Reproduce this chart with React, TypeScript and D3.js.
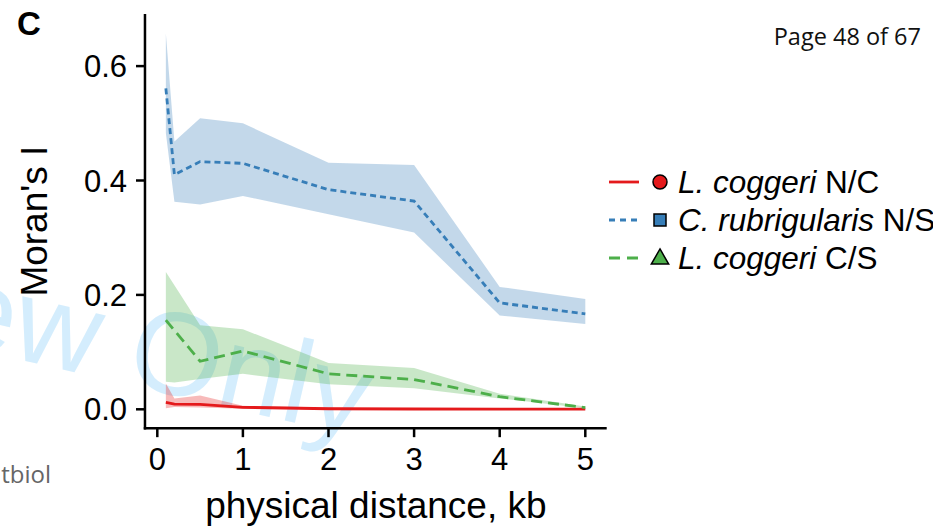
import React from 'react';
import * as d3 from 'd3';

// distances (kb) at which Moran's I was computed
const distances = [0.1, 0.2, 0.5, 1, 2, 3, 4, 5];

// L. coggeri N/C
const ncMean = [0.012, 0.009, 0.0087, 0.0035, 0.001, 0.0005, 0.0003, 0.0002];
const ncLow = [0.002, 0.004, 0.003, 0.001, 0.0, 0.0, 0.0, 0.0];
const ncHigh = [0.045, 0.019, 0.024, 0.006, 0.003, 0.002, 0.002, 0.002];

// C. rubrigularis N/S
const nsMean = [0.561, 0.41, 0.433, 0.43, 0.384, 0.364, 0.186, 0.167];
const nsLow = [0.483, 0.363, 0.358, 0.373, 0.341, 0.309, 0.164, 0.149];
const nsHigh = [0.657, 0.468, 0.509, 0.5, 0.431, 0.427, 0.214, 0.193];

// L. coggeri C/S
const csMean = [0.156, 0.138, 0.084, 0.102, 0.062, 0.052, 0.022, 0.003];
const csLow = [0.048, 0.047, 0.053, 0.062, 0.044, 0.037, 0.019, 0.002];
const csHigh = [0.24, 0.217, 0.147, 0.14, 0.081, 0.072, 0.027, 0.005];

const xTicks = [0, 1, 2, 3, 4, 5];
const yTicks = [0.0, 0.2, 0.4, 0.6];

const series = [
  { italic: 'L. coggeri', rest: ' N/C', mean: ncMean, low: ncLow, high: ncHigh, color: '#e41a1c', dash: null, shape: 'circle' },
  { italic: 'C. rubrigularis', rest: ' N/S', mean: nsMean, low: nsLow, high: nsHigh, color: '#377eb8', dash: '6,4', shape: 'square' },
  { italic: 'L. coggeri', rest: ' C/S', mean: csMean, low: csLow, high: csHigh, color: '#4daf4a', dash: '11,6', shape: 'triangle' },
];

const font = "'Liberation Sans', Arial, Helvetica, sans-serif";

export default function App() {
  const x = d3.scaleLinear().domain([0, 5]).range([157.3, 585.3]);
  const y = d3.scaleLinear().domain([0, 0.6]).range([409.3, 66.1]);
  const xMin = x(-0.144), xMax = x(5.25);
  const yTop = y(0.691), yBot = y(-0.033);

  const area = (lo: number[], hi: number[]) =>
    d3.area<number>()
      .x((d) => x(d))
      .y0((_, i) => y(lo[i]))
      .y1((_, i) => y(hi[i]))(distances) || '';
  const line = (m: number[]) =>
    d3.line<number>()
      .x((d) => x(d))
      .y((_, i) => y(m[i]))(distances) || '';

  const legendX = 609, legendY = [182, 220, 258];

  return (
    <svg width={933} height={528} style={{ position: 'absolute', left: 0, top: 0, background: '#fff' }} fontFamily={font}>
      {/* watermark */}
      <text transform="translate(126,384) rotate(13)" x={-455} fontSize={118} fill="#87cefa" opacity={0.35} fontFamily={font}>
        Preview Only
      </text>

      {series.map((s, i) => (
        <path key={'a' + i} d={area(s.low, s.high)} fill={s.color} fillOpacity={0.3} />
      ))}
      {series.map((s, i) => (
        <path key={'l' + i} d={line(s.mean)} fill="none" stroke={s.color} strokeWidth={2.8}
          strokeDasharray={s.dash || undefined} />
      ))}

      {/* axes */}
      <line x1={xMin} x2={xMin} y1={yTop} y2={yBot + 1.2} stroke="#000" strokeWidth={2.5} />
      <line x1={xMin - 1.2} x2={xMax} y1={yBot} y2={yBot} stroke="#000" strokeWidth={2.5} />
      {yTicks.map((t) => (
        <g key={'y' + t}>
          <line x1={xMin - 9} x2={xMin} y1={y(t)} y2={y(t)} stroke="#000" strokeWidth={2.5} />
          <text x={127} y={y(t) + 11} textAnchor="end" fontSize={31}>{t.toFixed(1)}</text>
        </g>
      ))}
      {xTicks.map((t) => (
        <g key={'x' + t}>
          <line x1={x(t)} x2={x(t)} y1={yBot} y2={yBot + 9} stroke="#000" strokeWidth={2.5} />
          <text x={x(t)} y={470} textAnchor="middle" fontSize={31}>{t}</text>
        </g>
      ))}
      <text x={(xMin + xMax) / 2} y={518} textAnchor="middle" fontSize={37}>physical distance, kb</text>
      <text transform={`translate(47,${(yTop + yBot) / 2}) rotate(-90)`} textAnchor="middle" fontSize={37}>Moran's I</text>

      {/* legend */}
      {series.map((s, i) => {
        const cy = legendY[i];
        const mx = 660;
        return (
          <g key={'g' + i}>
            <line x1={legendX} x2={legendX + 30} y1={cy} y2={cy} stroke={s.color} strokeWidth={2.8}
              strokeDasharray={s.dash ? (s.dash === '6,4' ? '6,5' : '11,7') : undefined} />
            {s.shape === 'circle' && <circle cx={mx} cy={cy} r={7} fill={s.color} stroke="#000" strokeWidth={1.5} />}
            {s.shape === 'square' && <rect x={mx - 6} y={cy - 6} width={12} height={12} fill={s.color} stroke="#000" strokeWidth={1.5} />}
            {s.shape === 'triangle' && (
              <path d={d3.symbol(d3.symbolTriangle, 130)() || ''} transform={`translate(${mx},${cy + 1})`}
                fill={s.color} stroke="#000" strokeWidth={1.5} />
            )}
            <text x={678} y={cy + 11} fontSize={31.5}>
              <tspan fontStyle="italic">{s.italic}</tspan>{s.rest}
            </text>
          </g>
        );
      })}

      {/* page furniture */}
      <text x={17} y={35} fontSize={33} fontWeight="bold">C</text>
      <text x={921} y={45} textAnchor="end" fontSize={23.5} fontFamily="'Open Sans', 'Noto Sans', sans-serif" fill="#111">Page 48 of 67</text>
      <text x={51} y={483} textAnchor="end" fontSize={24} fontFamily="'Open Sans', 'Noto Sans', sans-serif" fill="#666">tbiol</text>
    </svg>
  );
}
